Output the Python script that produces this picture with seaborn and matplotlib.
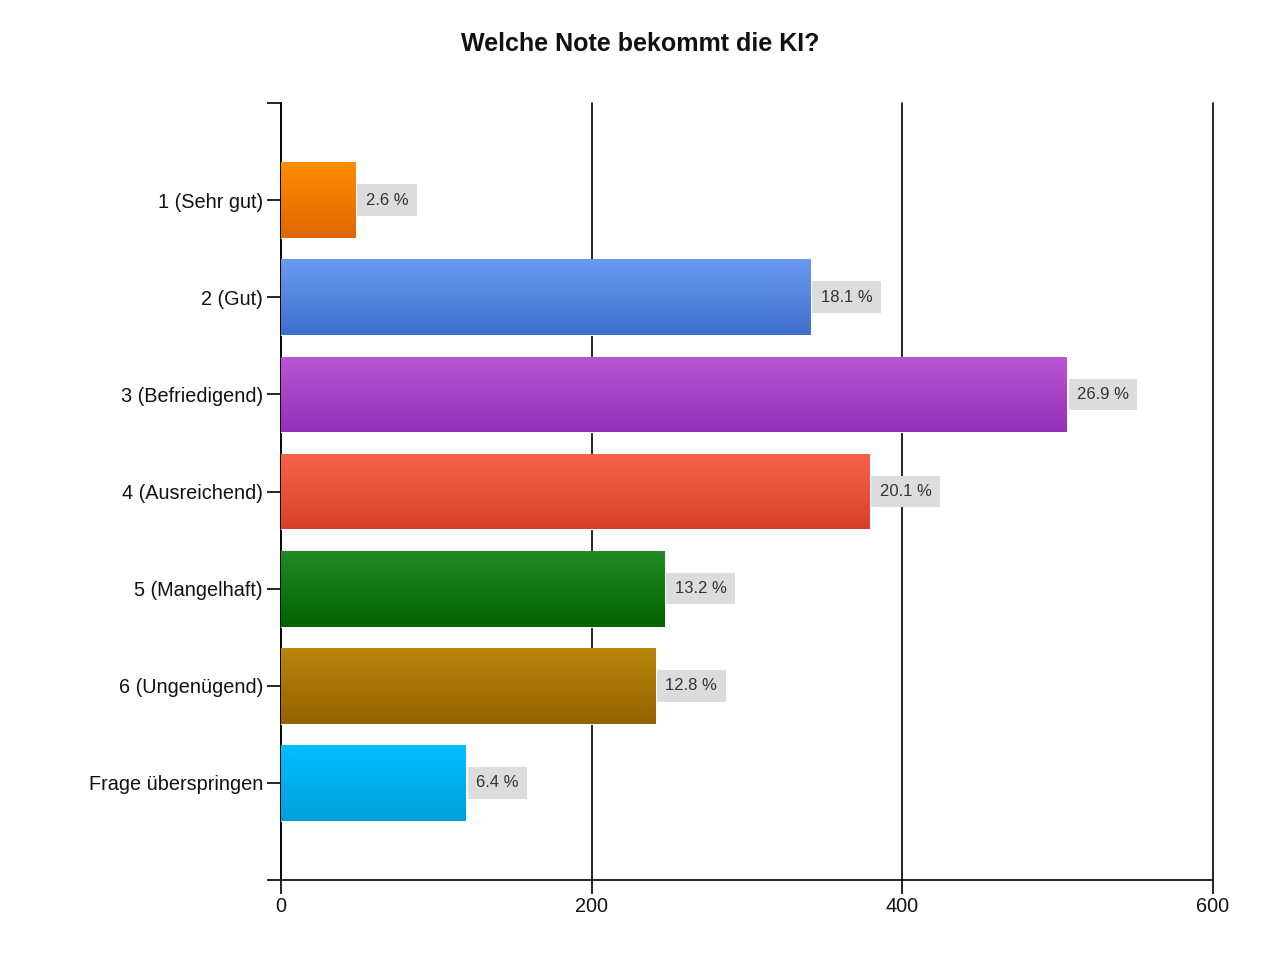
import numpy as np
import pandas as pd
import matplotlib
matplotlib.use("Agg")
import matplotlib.pyplot as plt
import seaborn as sns
from matplotlib.colors import LinearSegmentedColormap

categories = ["1 (Sehr gut)", "2 (Gut)", "3 (Befriedigend)", "4 (Ausreichend)",
              "5 (Mangelhaft)", "6 (Ungenügend)", "Frage überspringen"]
counts = [48, 341, 506, 379, 247, 241, 119]
pct_labels = ["2.6 %", "18.1 %", "26.9 %", "20.1 %", "13.2 %", "12.8 %", "6.4 %"]
top_colors = ["#ff8c00", "#6a9af0", "#ba55d3", "#f8624a", "#228b22", "#b8860b", "#00bfff"]
bottom_colors = ["#de6800", "#3f6fcc", "#9530b8", "#d8402a", "#006400", "#966200", "#009fdc"]

sns.set_style("white")
plt.rcParams['font.family'] = ['Liberation Sans', 'DejaVu Sans']

df = pd.DataFrame({"cat": categories, "n": counts})

fig = plt.figure(figsize=(12.8, 9.6), dpi=100)
ax = fig.add_axes([0.2195, 0.0833, 0.7281, 0.8094])

sns.barplot(data=df, x="n", y="cat", hue="cat", palette=top_colors, legend=False,
            width=0.78, ax=ax, saturation=1, zorder=3)

ax.set_xlim(0, 600)
ax.set_ylim(7, -1)

# gradients on bars
for p, c1, c2 in zip(ax.patches, top_colors, bottom_colors):
    x0, y0 = p.get_x(), p.get_y()
    w, h = p.get_width(), p.get_height()
    cmap = LinearSegmentedColormap.from_list("g", [c1, c2])
    grad = np.linspace(0, 1, 100).reshape(-1, 1)
    im = ax.imshow(grad, cmap=cmap, aspect="auto", extent=(x0, x0 + w, y0 + h, y0),
                   zorder=4, interpolation="bicubic")
    im.set_clip_path(p)
    p.set_edgecolor("white")
    p.set_linewidth(0.8)

ax.set_xlim(0, 600)
ax.set_ylim(7, -1)

for i, (v, lab) in enumerate(zip(counts, pct_labels)):
    ax.text(v + 6.5, i, lab, va="center", ha="left", fontsize=12, color="#333333",
            zorder=6, bbox=dict(boxstyle="square,pad=0.5", fc="#dcdcdc", ec="none"))

ax.set_xticks([0, 200, 400, 600])
ax.set_yticks(range(7))
ax.set_yticks([-1, 7], minor=True)
ax.set_yticklabels(categories)
ax.set_xlabel("")
ax.set_ylabel("")
ax.grid(axis="x", color="black", linewidth=1.2, zorder=1)
ax.grid(axis="y", visible=False)
for gl in ax.get_xgridlines():
    gl.set_clip_on(False)
for s in ["top", "right"]:
    ax.spines[s].set_visible(False)
for s in ["left", "bottom"]:
    ax.spines[s].set_color("black")
    ax.spines[s].set_linewidth(1.2)
ax.tick_params(axis="both", which="both", length=10, width=1.2, color="black",
               labelsize=14.3, labelcolor="#111111", left=True, bottom=True)
ax.tick_params(axis="y", pad=3)
ax.tick_params(axis="x", pad=2)

fig.text(0.5, 0.954, "Welche Note bekommt die KI?", ha="center", va="center",
         fontsize=18, fontweight="bold", color="#111111")

fig.savefig("out.png", dpi=100, facecolor="white")
